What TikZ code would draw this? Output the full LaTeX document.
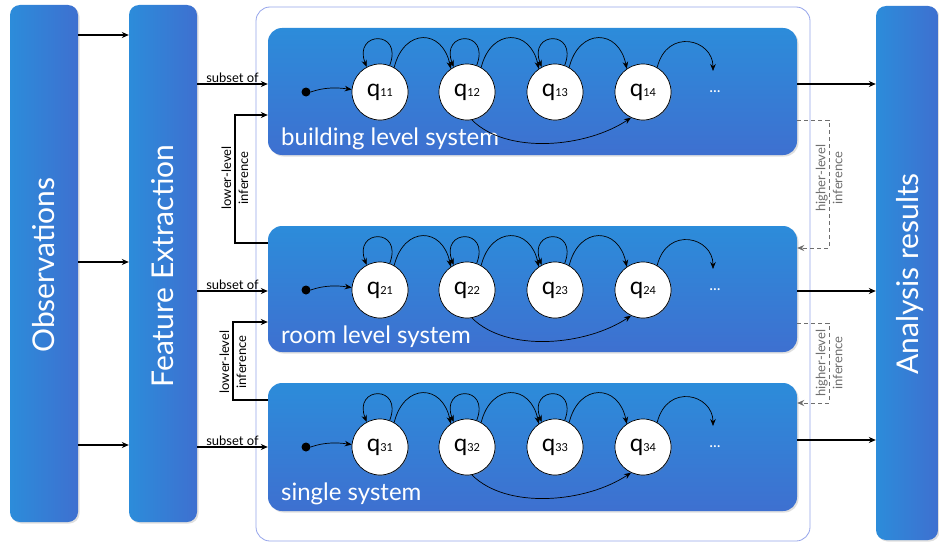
\documentclass[tikz,border=0pt]{standalone}
\usepackage{fontspec}
\setmainfont{Lato}
\usetikzlibrary{arrows.meta,shadows}
\definecolor{boxA}{RGB}{44,140,218}
\definecolor{boxB}{RGB}{62,112,208}
\definecolor{outerc}{RGB}{150,165,235}
\definecolor{hgray}{RGB}{110,110,110}
\newcommand{\qlab}[1]{{\fontsize{24}{24}\selectfont q}{\fontsize{11}{11}\selectfont #1}}
\begin{document}
\begin{tikzpicture}[x=1pt,y=-1pt,
  bar/.style={rounded corners=10pt, left color=boxA, right color=boxB, draw=none, inner sep=0pt,
    drop shadow={opacity=0.25,shadow xshift=1.5pt,shadow yshift=-1.5pt}},
  sub/.style={rounded corners=14pt, top color=boxA, bottom color=boxB, draw=none, inner sep=0pt,
    minimum width=529pt, drop shadow={opacity=0.25,shadow xshift=1.5pt,shadow yshift=-1.5pt}},
  outerbox/.style={rounded corners=14pt, draw=outerc, line width=0.8pt, fill=white, inner sep=0pt},
  bigtxt/.style={text=white, font=\fontsize{30}{36}\selectfont, rotate=90},
  subtxt/.style={text=white, font=\fontsize{24}{28}\selectfont, anchor=base west, inner sep=0pt},
  state/.style={circle, draw=black, fill=white, line width=0.7pt, minimum size=56pt, inner sep=0pt,
    drop shadow={opacity=0.3,shadow xshift=1pt,shadow yshift=-1pt}},
  initdot/.style={circle, fill=black, minimum size=9pt, inner sep=0pt},
  dotsn/.style={text=white, font=\fontsize{16}{16}\selectfont, inner sep=0pt},
  arr/.style={-{Stealth[length=7pt,width=5.5pt]}, line width=0.7pt},
  conn/.style={-{Stealth[length=7pt,width=6pt]}, line width=1.1pt},
  hconn/.style={-{Stealth[length=7pt,width=6pt]}, line width=1pt, draw=hgray, dashed, dash pattern=on 4pt off 3pt},
  smalltxt/.style={font=\fontsize{13}{17}\selectfont, align=center, inner sep=1pt},
]
\useasboundingbox (0,0) rectangle (939,543);
\fill[white] (0,0) rectangle (939,543);

% outer container
\node[outerbox, minimum width=554pt, minimum height=534pt] (cont) at (533,274) {};

% vertical bars
\node[bar, minimum width=68pt, minimum height=517pt] (obs) at (44,263.5) {};
\node[bigtxt] (obst) at (44,265) {Observations};
\node[bar, minimum width=68pt, minimum height=517pt] (fe) at (163,263.5) {};
\node[bigtxt] (fet) at (163,266) {Feature Extraction};
\node[bar, minimum width=62pt, minimum height=534pt] (ana) at (907,273) {};
\node[bigtxt] (anat) at (910,274) {Analysis results};

% subsystem boxes
\node[sub, minimum height=127pt] (bld) at (532.5,91.5) {};
\node[sub, minimum height=126pt] (room) at (532.5,289) {};
\node[sub, minimum height=128pt] (sgl) at (532.5,447) {};
\node[subtxt] (bldt) at (281,145) {building level system};
\node[subtxt] (roomt) at (281,343) {room level system};
\node[subtxt] (sglt) at (281,500) {single system};

% state rows
\foreach \r/\yy in {1/92,2/290,3/447}{
  \node[initdot] (i\r) at (306,\yy) {};
  \foreach \c/\xx in {1/380,2/467,3/555,4/643}{
    \node[state] (q\r\c) at (\xx,\yy) {\qlab{\r\c}};
  }
  \node[dotsn] (d\r) at (715,\yy) {...};
  \coordinate (e\r) at (713,\yy-21);
  \draw[arr] (i\r.east) .. controls +(14,-5) and +(-14,-2) .. (q\r1.175);
  \foreach \c in {1,2,3}{
    \draw[arr] (q\r\c.70) .. controls +(14,-36) and +(-14,-36) .. (q\r\c.118);
  }
  \draw[arr] (q\r1.60) .. controls +(10,-40) and +(-8,-40) .. (q\r2.125);
  \draw[arr] (q\r2.60) .. controls +(10,-40) and +(-8,-40) .. (q\r3.125);
  \draw[arr] (q\r3.60) .. controls +(10,-40) and +(-8,-40) .. (q\r4.125);
  \draw[arr] (q\r4.60) .. controls +(10,-40) and +(0,-32) .. (e\r);
  \draw[arr] (q\r2.-80) .. controls +(35,35) and +(-45,30) .. (q\r4.-115);
}

% y levels
\coordinate (ya) at (0,35);
\coordinate (yb) at (0,262);
\coordinate (yc) at (0,445);
\coordinate (s1) at (0,84);
\coordinate (s2) at (0,291);
\coordinate (s3) at (0,447);
\coordinate (o1) at (0,84);
\coordinate (o2) at (0,291);
\coordinate (o3) at (0,440);

\draw[conn] (obs.east |- ya) -- (fe.west |- ya);
\draw[conn] (obs.east |- yb) -- (fe.west |- yb);
\draw[conn] (obs.east |- yc) -- (fe.west |- yc);

\draw[conn] (fe.east |- s1) -- node[above, smalltxt] (sl1) {subset of} (bld.west |- s1);
\draw[conn] (fe.east |- s2) -- node[above, smalltxt] (sl2) {subset of} (room.west |- s2);
\draw[conn] (fe.east |- s3) -- node[above, smalltxt] (sl3) {subset of} (sgl.west |- s3);

\draw[conn] (bld.east |- o1) -- (ana.west |- o1);
\draw[conn] (room.east |- o2) -- (ana.west |- o2);
\draw[conn] (sgl.east |- o3) -- (ana.west |- o3);

% lower-level inference
\coordinate (l1b) at (235,243);
\coordinate (l1t) at (235,115);
\draw[conn] (room.west |- l1b) -- (l1b) -- (l1t) -- (bld.west |- l1t);
\node[smalltxt, rotate=90] (lt1) at (235,178) {lower-level\\inference};
\coordinate (l2b) at (233,400);
\coordinate (l2t) at (233,322);
\draw[conn] (sgl.west |- l2b) -- (l2b) -- (l2t) -- (room.west |- l2t);
\node[smalltxt, rotate=90] (lt2) at (233,362) {lower-level\\inference};

% higher-level inference
\coordinate (h1t) at (829,120);
\coordinate (h1b) at (829,248);
\draw[hconn] (bld.east |- h1t) -- (h1t) -- (h1b) -- (room.east |- h1b);
\node[smalltxt, rotate=90, text=hgray] (ht1) at (829,178) {higher-level\\inference};
\coordinate (h2t) at (829,323);
\coordinate (h2b) at (829,403);
\draw[hconn] (room.east |- h2t) -- (h2t) -- (h2b) -- (sgl.east |- h2b);
\node[smalltxt, rotate=90, text=hgray] (ht2) at (829,363) {higher-level\\inference};
\end{tikzpicture}
\end{document}
